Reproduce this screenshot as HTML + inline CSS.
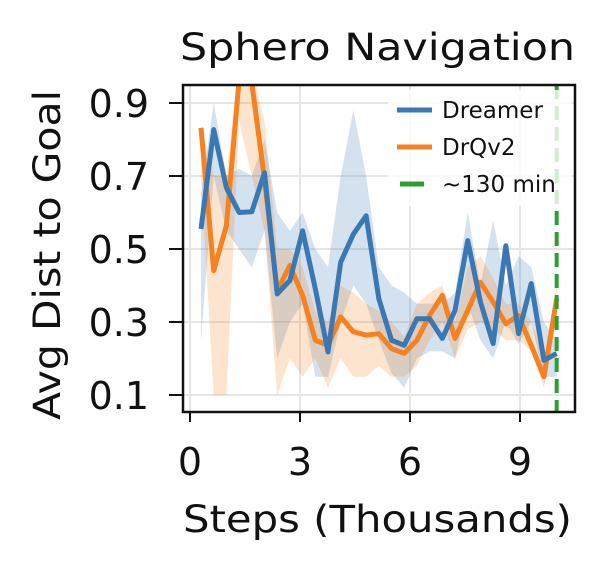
<!DOCTYPE html>
<html><head><meta charset="utf-8"><style>
body{margin:0;background:#fff}
svg text{font-family:"DejaVu Sans","Liberation Sans",sans-serif;fill:#111}
</style></head><body>
<svg id="c" width="611" height="570" style="position:absolute;left:0;top:0"></svg>
<script>
const steps=[...Array(29).keys()].map(i=>0.3+i*0.3464);
const dreamer=[0.555,0.827,0.668,0.6,0.602,0.709,0.377,0.414,0.55,0.391,0.218,0.464,0.541,0.591,0.364,0.25,0.236,0.309,0.309,0.255,0.332,0.523,0.355,0.241,0.509,0.268,0.405,0.195,0.214];
const dreamerHi=[0.65,0.9,0.7,0.72,0.7,0.8,0.6,0.55,0.6,0.5,0.45,0.7,0.88,0.7,0.45,0.4,0.38,0.35,0.35,0.35,0.38,0.6,0.4,0.58,0.4,0.48,0.45,0.3,0.25];
const dreamerLo=[0.25,0.7,0.55,0.5,0.45,0.55,0.2,0.3,0.35,0.15,0.15,0.3,0.4,0.35,0.25,0.16,0.12,0.2,0.22,0.22,0.2,0.35,0.25,0.2,0.3,0.24,0.3,0.15,0.15];
const drq=[0.832,0.441,0.564,0.964,0.955,0.691,0.386,0.455,0.373,0.25,0.236,0.314,0.273,0.264,0.268,0.227,0.214,0.25,0.318,0.373,0.255,0.332,0.409,0.355,0.295,0.318,0.236,0.15,0.364];
const drqHi=[0.84,0.7,0.7,1,1,0.85,0.5,0.5,0.45,0.33,0.3,0.4,0.38,0.35,0.33,0.3,0.26,0.35,0.38,0.4,0.3,0.45,0.48,0.42,0.35,0.35,0.3,0.2,0.4];
const drqLo=[0.7,0.1,0.1,0.85,0.7,0.55,0.1,0.2,0.15,0.2,0.12,0.2,0.15,0.15,0.18,0.15,0.15,0.18,0.25,0.3,0.2,0.28,0.3,0.28,0.25,0.25,0.22,0.12,0.3];
const xTicks=[0,3,6,9];
const yTicks=[0.1,0.3,0.5,0.7,0.9];
const vline=10;
const L=183,R=575,T=85,B=412;
const X=v=>190+(v-0)*(520-190)/9;
const Y=v=>395-(v-0.1)*(395-103)/0.8;
const s=document.getElementById('c');const NS='http://www.w3.org/2000/svg';
function mk(t,a,p){const e=document.createElementNS(NS,t);for(const k in a)e.setAttribute(k,a[k]);(p||s).appendChild(e);return e;}
const defs=mk('defs',{});const cp=mk('clipPath',{id:'cl'},defs);mk('rect',{x:L,y:T,width:R-L,height:B-T},cp);
xTicks.forEach(t=>{const g=mk('line',{x1:X(t),x2:X(t),y1:T,y2:B,stroke:'#e6e6e6','stroke-width':2});
});
yTicks.forEach(t=>{const g=mk('line',{x1:L,x2:R,y1:Y(t),y2:Y(t),stroke:'#e6e6e6','stroke-width':2});
});
const pg=mk('g',{'clip-path':'url(#cl)'});
function band(hi,lo,col,name){const pts=steps.map((x,i)=>X(x)+','+Y(hi[i])).concat(steps.map((x,i)=>X(x)+','+Y(lo[i])).reverse());
const e=mk('polygon',{points:pts.join(' '),fill:col,'fill-opacity':0.22},pg);}
function line(v,col,name){const e=mk('polyline',{points:steps.map((x,i)=>X(x)+','+Y(v[i])).join(' '),fill:'none',stroke:col,'stroke-width':5,'stroke-linejoin':'round'},pg);
}
band(dreamerHi,dreamerLo,'#3a78b4','dreamer-band');band(drqHi,drqLo,'#f58220','drqv2-band');
line(drq,'#f58220','drqv2-line');line(dreamer,'#3a78b4','dreamer-line');
const vl=mk('line',{x1:X(vline),x2:X(vline),y1:T,y2:B,stroke:'#2ca02c','stroke-width':4,'stroke-dasharray':'14 7'},pg);

const lb=mk('rect',{x:388,y:90,width:184,height:116,rx:4,fill:'#fff','fill-opacity':0.8});

const fr=mk('rect',{x:L,y:T,width:R-L,height:B-T,fill:'none',stroke:'#111','stroke-width':2.5});

xTicks.forEach(t=>{mk('line',{x1:X(t),x2:X(t),y1:B,y2:B+10,stroke:'#111','stroke-width':2});
const e=mk('text',{x:X(t),y:475,'font-size':38,'text-anchor':'middle'});e.textContent=t;
});
yTicks.forEach(t=>{mk('line',{x1:L-14,x2:L,y1:Y(t),y2:Y(t),stroke:'#111','stroke-width':2});
const e=mk('text',{x:L-34,y:Y(t)+14,'font-size':38,'text-anchor':'end'});e.textContent=t.toFixed(1);
});
</script>
<svg width="611" height="570" style="position:absolute;left:0;top:0">
<text x="180" y="60" font-size="37" textLength="395" lengthAdjust="spacingAndGlyphs">Sphero Navigation</text>
<text x="183" y="532" font-size="37" textLength="389" lengthAdjust="spacingAndGlyphs">Steps (Thousands)</text>
<text transform="translate(60,420) rotate(-90)" font-size="37" textLength="330" lengthAdjust="spacingAndGlyphs">Avg Dist to Goal</text>
<g font-size="23">
<line x1="397" x2="432" y1="110" y2="110" stroke="#3a78b4" stroke-width="5"/>
<text x="442" y="118">Dreamer</text>
<line x1="397" x2="432" y1="147" y2="147" stroke="#f58220" stroke-width="5"/>
<text x="442" y="155">DrQv2</text>
<line x1="400" x2="424" y1="184" y2="184" stroke="#2ca02c" stroke-width="5"/>
<text x="442" y="192">~130 min</text>
</g></svg>
</body></html>
